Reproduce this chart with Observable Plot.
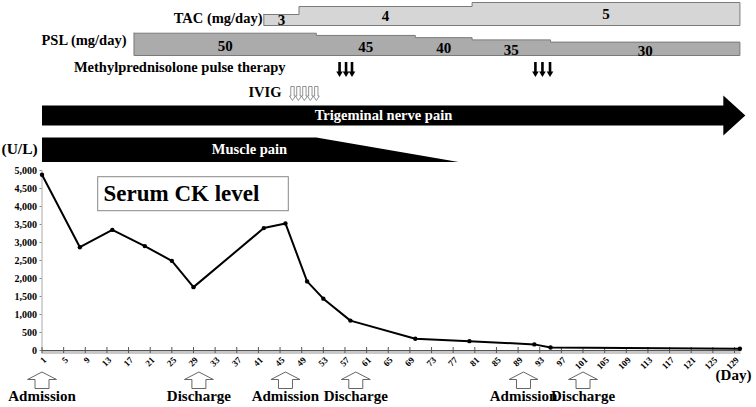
<!DOCTYPE html>
<html><head><meta charset="utf-8">
<script src="https://cdn.jsdelivr.net/npm/d3@7"></script>
<script src="https://cdn.jsdelivr.net/npm/@observablehq/plot@0.6"></script>
<style>body{margin:0;background:#fff} svg{display:block}</style>
</head><body><div id="chart"></div>
<script>
// ---------------- data ----------------
const ckDays   = [1, 8, 14, 20, 25, 29, 42, 46, 50, 53, 58, 70, 80, 92, 95, 130];
const ckValues = [4880, 2870, 3350, 2900, 2490, 1760, 3400, 3530, 1920, 1440, 830, 325, 260, 170, 85, 50];
const yTicks = [0, 500, 1000, 1500, 2000, 2500, 3000, 3500, 4000, 4500, 5000];
const xTicks = [1, 5, 9, 13, 17, 21, 25, 29, 33, 37, 41, 45, 49, 53, 57, 61, 65, 69, 73, 77, 81, 85, 89, 93, 97, 101, 105, 109, 113, 117, 121, 125, 129];
const tacDoses = [3, 4, 5];
const tacChangeDays = [42, 48.5, 80.5, 130];
const pslDoses = [50, 45, 40, 35, 30];
const pslChangeDays = [18, 51.7, 70, 80.5, 95, 130];
const pulseDays = [56.0, 57.2, 58.3, 92.2, 93.5, 94.9];
const ivigDays = [47.3, 48.4, 49.5, 50.6, 51.7];
const trigeminalSpan = [1, 131];
const musclePainSpan = [1, 51.7, 78];   // start, end of full pain, end of fading
const admissionDays = [1, 46, 90];
const dischargeDays = [30, 59, 101];

// ---------------- layout ----------------
const W = 756, H = 407;
const mL = 41.5, mR = 15.5, mT = 170, mB = 57;
const xDom = [1, 130.2], yDom = [0, 5000];
const kx = (W - mR - mL) / (xDom[1] - xDom[0]);
const ky = (H - mB - mT) / (yDom[1] - yDom[0]);
const valAt = p => yDom[0] + (H - mB - p) / ky;   // pixel row -> y value
const dayAt = p => xDom[0] + (p - mL) / kx;       // pixel col -> day
const xPx = d => mL + (d - xDom[0]) * kx;

const FONT = "'Liberation Serif', 'Times New Roman', serif";
const tacBase = 25, pslBase = 55;
const tacH = d3.scaleLinear().domain([3, 4, 5]).range([11, 19, 23]);
const pslH = d => d * 0.446;

// step polygon builder
function stepPoly(doses, changes, base, hFn) {
  const pts = [];
  doses.forEach((d, i) => {
    const top = valAt(base - hFn(d));
    pts.push({x: changes[i], y: top}, {x: changes[i + 1], y: top});
  });
  pts.push({x: changes[changes.length - 1], y: valAt(base)});
  pts.push({x: changes[0], y: valAt(base)});
  pts.push({...pts[0]});
  return pts;
}
const segs = (doses, changes, base, hFn, shift) => doses.map((d, i) => ({
  dose: d, x: (changes[i] + changes[i + 1]) / 2, y: valAt((base - hFn(d) + base) / 2 + shift)
}));

const tacPoly = stepPoly(tacDoses, tacChangeDays, tacBase, tacH);
const pslPoly = stepPoly(pslDoses, pslChangeDays, pslBase, pslH);

const headBase = dayAt(xPx(trigeminalSpan[1]) - 22);
const trigPoly = [
  {x: trigeminalSpan[0], y: valAt(105)}, {x: headBase, y: valAt(105)}, {x: headBase, y: valAt(95)},
  {x: trigeminalSpan[1], y: valAt(115)}, {x: headBase, y: valAt(135)}, {x: headBase, y: valAt(125)},
  {x: trigeminalSpan[0], y: valAt(125)}
];
const musclePoly = [
  {x: musclePainSpan[0], y: valAt(137)}, {x: musclePainSpan[1], y: valAt(137)},
  {x: musclePainSpan[2], y: valAt(161.5)}, {x: musclePainSpan[0], y: valAt(161.5)}
];

// arrow symbols
const hollowUp = {draw(c) {
  c.moveTo(0, -8.5); c.lineTo(14.5, -1); c.lineTo(7, -1); c.lineTo(7, 8);
  c.lineTo(-7, 8); c.lineTo(-7, -1); c.lineTo(-14.5, -1); c.closePath();
}};
const hollowDown = {draw(c) {
  c.moveTo(-1.7, -7); c.lineTo(1.7, -7); c.lineTo(1.7, 2.5); c.lineTo(3, 2.5);
  c.lineTo(0, 7); c.lineTo(-3, 2.5); c.lineTo(-1.7, 2.5); c.closePath();
}};
const solidDown = {draw(c) {
  c.moveTo(-1.3, -7.5); c.lineTo(1.3, -7.5); c.lineTo(1.3, 2); c.lineTo(3.3, 2);
  c.lineTo(0, 7.5); c.lineTo(-3.3, 2); c.lineTo(-1.3, 2); c.closePath();
}};

const ckData = ckDays.map((d, i) => ({day: d, ck: ckValues[i]}));
const events = [
  ...admissionDays.map(d => ({day: d, label: "Admission"})),
  ...dischargeDays.map(d => ({day: d, label: "Discharge"}))
];

const txt = (text, px, py, size, anchor = "middle", fill = "black") =>
  Plot.text([text], {x: () => dayAt(px), y: () => valAt(py), text: d => d, fontSize: size, textAnchor: anchor, fill});

const plot = Plot.plot({
  width: W, height: H,
  marginLeft: mL, marginRight: mR, marginTop: mT, marginBottom: mB,
  x: {domain: xDom, axis: null},
  y: {domain: yDom, axis: null},
  style: {fontFamily: FONT, fontWeight: "bold", background: "white", color: "black"},
  marks: [
    // TAC and PSL dose bars
    Plot.line(tacPoly, {x: "x", y: "y", fill: "#d6d6d6", stroke: "#7a7a7a", strokeWidth: 1, curve: "linear"}),
    Plot.line(pslPoly, {x: "x", y: "y", fill: "#ababab", stroke: "#7a7a7a", strokeWidth: 1, curve: "linear"}),
    Plot.text(segs(tacDoses, tacChangeDays, tacBase, tacH, 0), {x: "x", y: "y", text: d => String(d.dose), fontSize: 15}),
    Plot.text(segs(pslDoses, pslChangeDays, pslBase, pslH, 2), {x: "x", y: "y", text: d => String(d.dose), fontSize: 15}),
    txt("TAC (mg/day)", 262, 18, 14.5, "end"),
    txt("PSL (mg/day)", 126, 40, 14.5, "end"),
    // pulses and IVIG
    txt("Methylprednisolone pulse therapy", 285, 67, 14.5, "end"),
    Plot.dot(pulseDays, {x: d => d, y: () => valAt(69), symbol: solidDown, fill: "black", stroke: "none"}),
    txt("IVIG", 281, 92, 14.5, "end"),
    Plot.dot(ivigDays, {x: d => d, y: () => valAt(93), symbol: hollowDown, fill: "white", stroke: "#777", strokeWidth: 0.8}),
    // symptom bars
    Plot.line(trigPoly, {x: "x", y: "y", fill: "black", stroke: "none", curve: "linear"}),
    txt("Trigeminal nerve pain", 383, 115, 14.5, "middle", "white"),
    Plot.line(musclePoly, {x: "x", y: "y", fill: "black", stroke: "none", curve: "linear"}),
    txt("Muscle pain", 249, 149, 14.5, "middle", "white"),
    txt("(U/L)", 1, 149, 15.5, "start"),
    // axes
    Plot.ruleX([xDom[0]], {y1: yDom[0], y2: yDom[1], stroke: "#aaa", strokeWidth: 1}),
    Plot.axisY({ticks: yTicks, tickFormat: d3.format(","), tickSize: 2, tickPadding: 3, fontSize: 10, label: null, stroke: "#888"}),
    Plot.ruleY([0], {x1: xDom[0], x2: xDom[1], stroke: "#c8c8c8", strokeWidth: 4, dy: 1.5}),
    Plot.ruleY([0], {x1: xDom[0], x2: xDom[1], stroke: "#555", strokeWidth: 1}),
    Plot.ruleX(xTicks, {y1: valAt(353), y2: valAt(347), stroke: "#555", strokeWidth: 1}),
    Plot.text(xTicks, {x: d => d, y: () => valAt(358), text: d => String(d), rotate: -45, textAnchor: "end", fontSize: 9, dx: 3}),
    txt("(Day)", 733, 375, 15),
    // CK series
    Plot.line(ckData, {x: "day", y: "ck", stroke: "black", strokeWidth: 2, strokeLinejoin: "miter"}),
    Plot.dot(ckData, {x: "day", y: "ck", r: 2.2, fill: "black", stroke: "none"}),
    // title box
    Plot.rect([0], {x1: () => dayAt(97.7), x2: () => dayAt(288.3), y1: () => valAt(210.7), y2: () => valAt(176.7), fill: "white", stroke: "#888", strokeWidth: 1}),
    txt("Serum CK level", 103, 193, 23, "start"),
    // admission / discharge
    Plot.dot(events, {x: "day", y: () => valAt(380), symbol: hollowUp, fill: "white", stroke: "#666", strokeWidth: 1}),
    Plot.text(events, {x: "day", y: () => valAt(396), text: "label", fontSize: 15})
  ]
});
document.getElementById("chart").appendChild(plot);
</script>
</body></html>
